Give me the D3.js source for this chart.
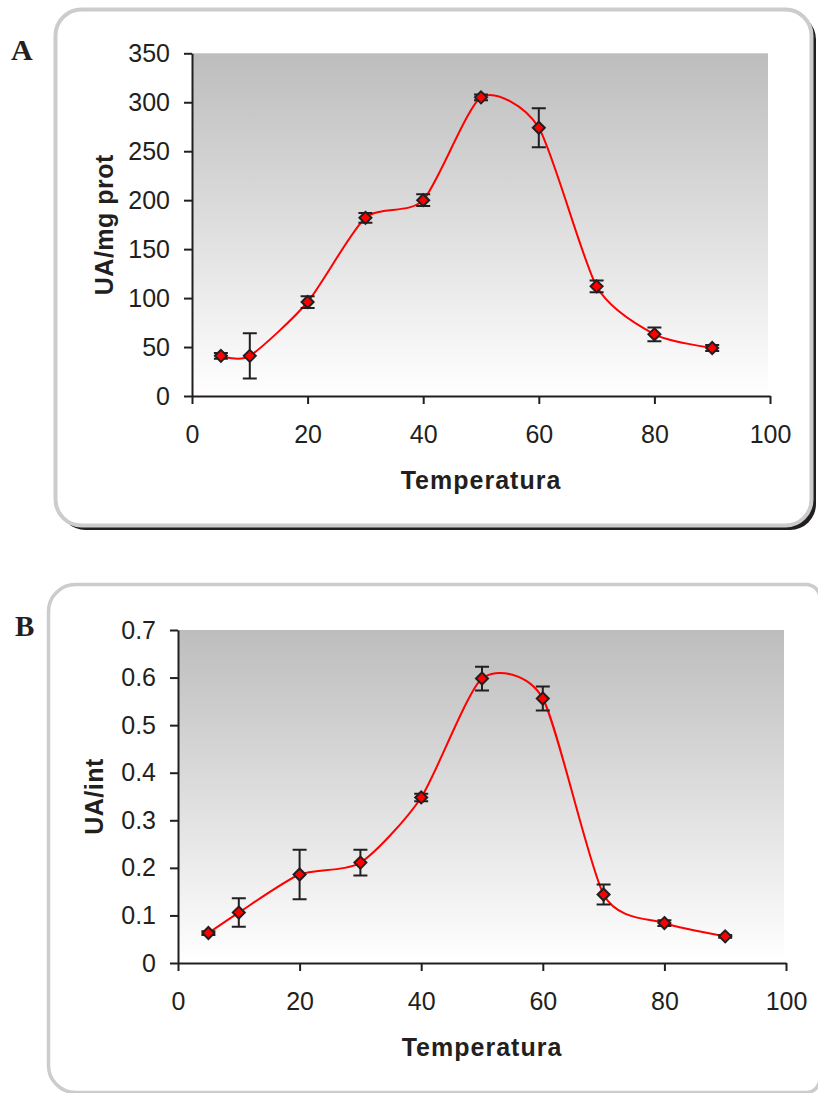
<!DOCTYPE html>
<html>
<head>
<meta charset="utf-8">
<script src="https://cdn.jsdelivr.net/npm/d3@7"></script>
<style>
html,body{margin:0;padding:0;background:#fff;}
svg{display:block;}
text{font-family:"Liberation Sans",Arial,sans-serif;fill:#231f20;}
</style>
</head>
<body>
<svg id="chart" width="818" height="1093"></svg>
<script>
// ---- data ----
const temperatures = [5, 10, 20, 30, 40, 50, 60, 70, 80, 90];
const activityA = [41, 41, 96, 182, 200, 305, 274, 112, 63, 49];       // UA/mg prot
const errorA    = [3, 23, 6, 5, 6, 3, 20, 6, 7, 3];
const activityB = [0.063, 0.106, 0.186, 0.211, 0.348, 0.598, 0.556, 0.144, 0.084, 0.056]; // UA/int
const errorB    = [0.004, 0.030, 0.052, 0.027, 0.008, 0.025, 0.025, 0.021, 0.006, 0.003];
const xTicks  = [0, 20, 40, 60, 80, 100];
const yTicksA = [0, 50, 100, 150, 200, 250, 300, 350];
const yTicksB = [0, 0.1, 0.2, 0.3, 0.4, 0.5, 0.6, 0.7];

const svg = d3.select("#chart");
const defs = svg.append("defs");
const grad = defs.append("linearGradient").attr("id","bg").attr("x1",0).attr("y1",0).attr("x2",0).attr("y2",1);
grad.append("stop").attr("offset","0%").attr("stop-color","#bdbdbd");
grad.append("stop").attr("offset","100%").attr("stop-color","#ffffff");

// ---- frames ----
function roundedPath(x0, y0, x1, y1, rl, rr) {
  return `M${x0+rl},${y0} L${x1-rr},${y0} A${rr},${rr} 0 0 1 ${x1},${y0+rr} L${x1},${y1-rr} A${rr},${rr} 0 0 1 ${x1-rr},${y1} L${x0+rl},${y1} A${rl},${rl} 0 0 1 ${x0},${y1-rl} L${x0},${y0+rl} A${rl},${rl} 0 0 1 ${x0+rl},${y0} Z`;
}
// frame A with dark shadow
svg.append("path").attr("d", roundedPath(59.5, 13.5, 816, 530, 26, 26)).attr("fill","#231f20");
svg.append("path").attr("d", roundedPath(55.5, 9.5, 811.5, 525.5, 26, 26))
  .attr("fill","#fff").attr("stroke","#cccccc").attr("stroke-width",4);
// frame B
svg.append("path").attr("d", roundedPath(48.5, 584.5, 820, 1092.5, 27, 14))
  .attr("fill","#fff").attr("stroke","#cccccc").attr("stroke-width",3.5);

// panel letters
svg.append("text").attr("x",11).attr("y",60).text("A")
  .style("font-family","'Liberation Serif','Times New Roman',serif").style("font-weight","bold").style("font-size","30px");
svg.append("text").attr("x",15).attr("y",636).text("B")
  .style("font-family","'Liberation Serif','Times New Roman',serif").style("font-weight","bold").style("font-size","29px");

function panel(cfg) {
  const x = d3.scaleLinear().domain([0,100]).range([cfg.left, cfg.right]);
  const y = d3.scaleLinear().domain([0, cfg.ymax]).range([cfg.bottom, cfg.top]);
  const g = svg.append("g");

  g.append("rect").attr("x", x(0)).attr("y", y(cfg.ymax))
    .attr("width", x(100) - x(0) - 2).attr("height", y(0) - y(cfg.ymax))
    .attr("fill","url(#bg)");

  // axes
  const xa = g.append("g").attr("transform",`translate(0,${y(0)})`)
    .call(d3.axisBottom(x).tickValues(xTicks).tickSize(8).tickPadding(21).tickSizeOuter(0).tickFormat(d3.format("d")));
  const ya = g.append("g").attr("transform",`translate(${x(0)},0)`)
    .call(d3.axisLeft(y).tickValues(cfg.yTicks).tickSize(8).tickPadding(14).tickSizeOuter(0).tickFormat(cfg.fmt));
  [xa, ya].forEach(a => {
    a.select(".domain").attr("stroke","#231f20").attr("stroke-width",2);
    a.selectAll(".tick line").attr("stroke","#231f20").attr("stroke-width",2);
    a.selectAll(".tick text").style("font-size","25px").attr("fill","#231f20");
  });

  // axis titles
  g.append("text").attr("x", (x(0)+x(100))/2).attr("y", cfg.xTitleY)
    .attr("text-anchor","middle").style("font-weight","bold").style("font-size","25px")
    .style("letter-spacing","1px").text("Temperatura");
  g.append("text").attr("transform",`translate(${cfg.yTitleX},${(y(0)+y(cfg.ymax))/2}) rotate(-90)`)
    .attr("text-anchor","middle").style("font-weight","bold").style("font-size","25px")
    .style("letter-spacing","0.5px").text(cfg.yTitle);

  const pts = temperatures.map((t,i) => ({t, v: cfg.values[i], e: cfg.errors[i]}));

  // smoothed line
  const line = d3.line().x(d => x(d.t)).y(d => y(d.v)).curve(d3.curveCardinal.tension(0.3));
  g.append("path").datum(pts).attr("d", line).attr("fill","none")
    .attr("stroke","#ff0000").attr("stroke-width",2);

  // error bars
  const eb = g.append("g").attr("stroke","#231f20").attr("stroke-width",2).attr("fill","none");
  pts.forEach(d => {
    const cx = x(d.t), y1 = y(d.v + d.e), y2 = y(d.v - d.e);
    eb.append("path").attr("d",
      `M${cx},${y1} L${cx},${y2} M${cx-7},${y1} L${cx+7},${y1} M${cx-7},${y2} L${cx+7},${y2}`);
  });

  // diamond markers
  const s = 6;
  g.append("g").selectAll("path").data(pts).join("path")
    .attr("d", d => { const cx = x(d.t), cy = y(d.v);
      return `M${cx},${cy-s} L${cx+s},${cy} L${cx},${cy+s} L${cx-s},${cy} Z`; })
    .attr("fill","#ff0000").attr("stroke","#231f20").attr("stroke-width",2);
}

panel({left:192, right:770, top:53.3, bottom:396, ymax:350, yTicks:yTicksA, fmt:d3.format("d"),
       values:activityA, errors:errorA, yTitle:"UA/mg prot", yTitleX:113, xTitleY:489});
panel({left:178, right:786, top:630, bottom:963, ymax:0.7, yTicks:yTicksB, fmt:d => d === 0 ? "0" : d3.format(".1f")(d),
       values:activityB, errors:errorB, yTitle:"UA/int", yTitleX:103, xTitleY:1056});
</script>
</body>
</html>
